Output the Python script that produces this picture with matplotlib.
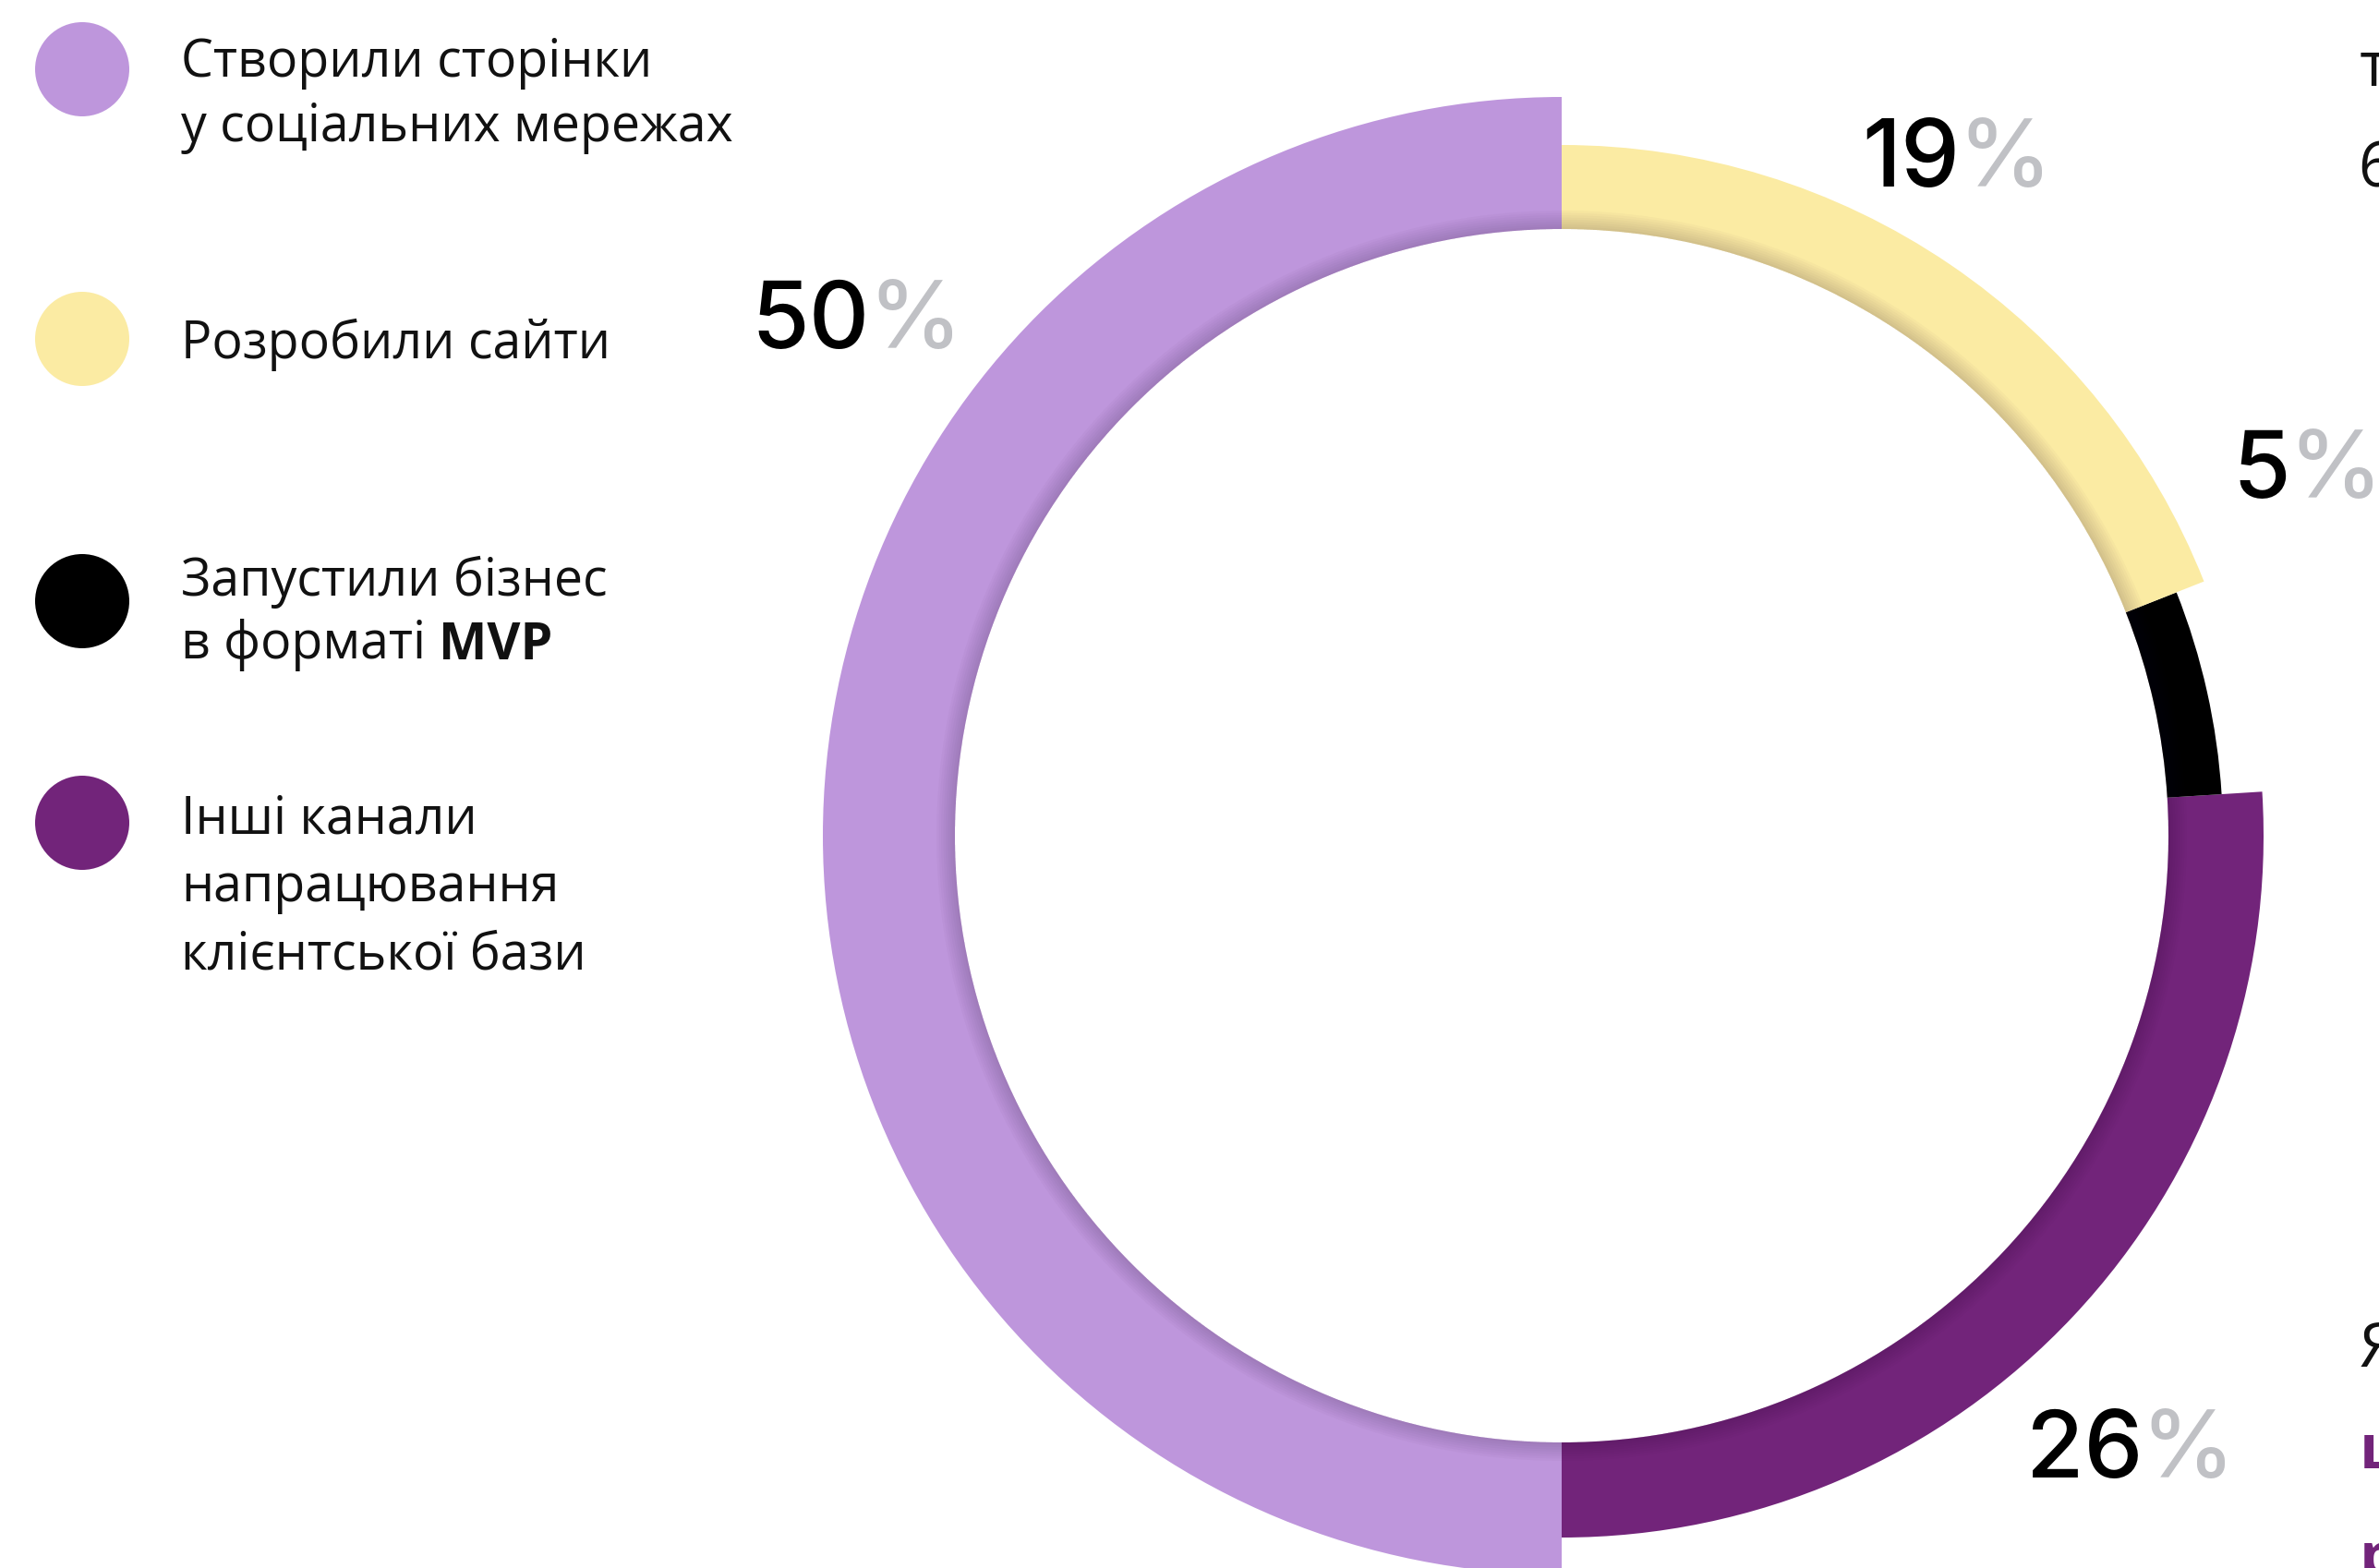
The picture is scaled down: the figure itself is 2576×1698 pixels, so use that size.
import matplotlib
matplotlib.use('Agg')
import matplotlib.pyplot as plt
from matplotlib.patches import Circle, Wedge

# доля каналів (у порядку легенди)
labels = [
    ['Створили сторінки', 'у соціальних мережах'],
    ['Розробили сайти'],
    ['Запустили бізнес', 'в форматі '],
    ['Інші канали', 'напрацювання', 'клієнтської бази'],
]
shares = [50, 19, 5, 26]
colors = ['#BE96DC', '#FBEBA3', '#000000', '#72247A']
# зовнішній радіус кожного сегмента кільця, px
outer_r = [800, 748, 716, 760]

W, H = 2576, 1698
inner_r = 657
cx, cy = 1691, H - 905

fig = plt.figure(figsize=(W / 100, H / 100), dpi=100)
ax = fig.add_axes([0, 0, 1, 1])

# з верху проти годинникової: ліва половина, далі знизу вгору праворуч
order = [0, 3, 2, 1]
wedges, _ = ax.pie([shares[i] for i in order], colors=[colors[i] for i in order],
                   startangle=90, counterclock=True, radius=800, center=(cx, cy),
                   wedgeprops=dict(width=800 - inner_r, linewidth=0))
for w, i in zip(wedges, order):
    w.set_radius(outer_r[i])
    w.set_width(outer_r[i] - inner_r)

# легка тінь уздовж внутрішнього краю
for k in range(1, 9):
    ax.add_patch(Wedge((cx, cy), inner_r + 2.5 * k, 0, 360, width=2.5 * k,
                       facecolor='#2a0f30', alpha=0.022, linewidth=0))

ax.set_xlim(0, W)
ax.set_ylim(0, H)
ax.set_aspect('equal')
ax.axis('off')

# підписи відсотків: число чорне, знак % сірий
pct_pos = {0: (942, 377), 1: (2122, 202), 2: (2480, 539), 3: (2320, 1600)}
for i, (x, y) in pct_pos.items():
    ax.text(x, H - y, str(shares[i]), ha='right', va='baseline', family='Inter',
            fontweight='medium', fontsize=73, color='#000000')
    ax.text(x - 2, H - y, '%', ha='left', va='baseline', family='Inter',
            fontweight='medium', fontsize=73, color='#C0C1C5')

# легенда
dot_y = [75, 367, 651, 891]
first_base = [83, 388, 645, 902]
line_step = [70, 72, 68, 74]
txt = dict(family='Open Sans', fontsize=40, color='#111111', va='baseline', ha='left')
for i in range(4):
    ax.add_patch(Circle((89, H - dot_y[i]), 51, facecolor=colors[i], linewidth=0))
    for j, line in enumerate(labels[i]):
        t = ax.text(196, H - (first_base[i] + j * line_step[i]), line, **txt)
    if i == 2:
        ax.annotate('MVP', xy=(1, 0), xycoords=t, va='bottom', ha='left',
                    family='Open Sans', fontsize=40, fontweight='bold', color='#111111')

# обрізаний текст праворуч
side = dict(family='Open Sans', fontsize=48, va='baseline', ha='left')
ax.text(2555, H - 93, 'т', color='#111111', **side)
ax.text(2553, H - 202, '6', color='#111111', **side)
ax.text(2555, H - 1480, 'Я', color='#111111', **side)
ax.text(2555, H - 1590, 'ц', color='#72247A', fontweight='bold', **side)
ax.text(2555, H - 1707, 'р', color='#72247A', fontweight='bold', **side)

fig.savefig('out.png', dpi=100, facecolor='white')
